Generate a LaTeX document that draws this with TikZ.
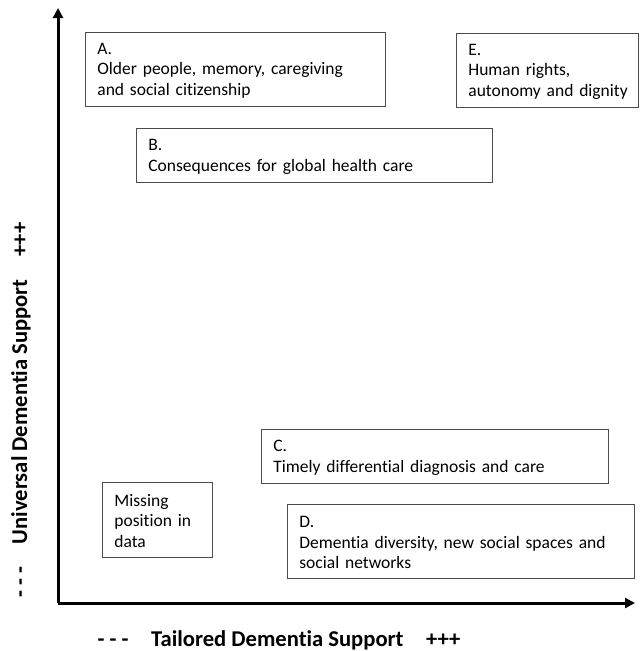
\documentclass[tikz,border=0pt]{standalone}
\usepackage{fontspec}
\setmainfont{Carlito}[Ligatures={NoCommon}]
\usetikzlibrary{arrows.meta}
\begin{document}
\begin{tikzpicture}[x=1pt,y=-1pt,
  cat/.style={draw=black!70, line width=0.8pt, anchor=north west, align=left,
    inner xsep=12pt, inner ysep=0pt, text height=14pt,
    font=\fontsize{17.5}{20.5}\selectfont},
  axis/.style={line width=3pt, -{Triangle[length=10pt,width=10pt]}},
  axlabel/.style={font=\bfseries\fontsize{22.6}{26}\selectfont}]
\useasboundingbox (0,0) rectangle (640,651);
\coordinate (O) at (58,603);
\coordinate (Ytop) at (58,8);
\coordinate (Xend) at (635,603);
\draw[axis] (O) -- (Ytop);
\draw[axis] (O) -- (Xend);
\node[cat, minimum width=300pt, minimum height=74pt, text width=276pt] (A) at (85,32)
  {A.\\Older people, memory, caregiving\\and social citizenship};
\node[cat, minimum width=182pt, minimum height=74pt, text width=158pt] (E) at (456,33)
  {E.\\Human rights,\\\mbox{autonomy and dignity}};
\node[cat, minimum width=356pt, minimum height=54pt, text width=332pt] (B) at (136,128)
  {B.\\Consequences for global health care};
\node[cat, minimum width=347pt, minimum height=54pt, text width=323pt] (C) at (261,429)
  {C.\\Timely differential diagnosis and care};
\node[cat, minimum width=347pt, minimum height=74pt, text width=323pt] (D) at (287,504)
  {D.\\Dementia diversity, new social spaces and\\social networks};
\node[cat, minimum width=110pt, minimum height=75pt, text width=86pt] (M) at (102,482)
  {Missing\\position in\\data};
\node[axlabel, rotate=90] (YL) at (21,410) {- - -\hspace{1em}Universal Dementia Support\hspace{1em}+++};
\node[axlabel, anchor=base] (XL) at (279,646) {- - -\hspace{1em}Tailored Dementia Support\hspace{1em}+++};
\end{tikzpicture}
\end{document}
